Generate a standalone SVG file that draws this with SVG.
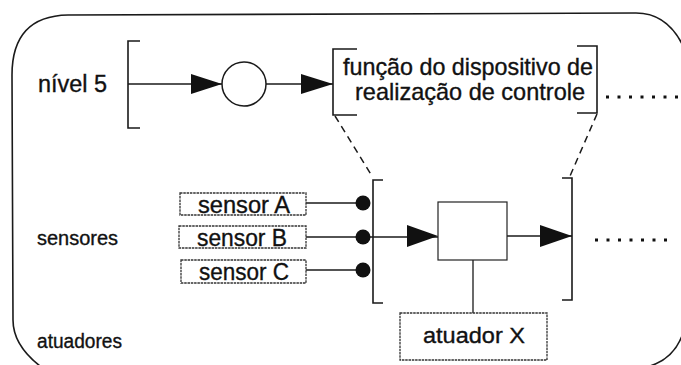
<svg xmlns="http://www.w3.org/2000/svg" width="681" height="365" viewBox="0 0 681 365">
<defs>
<style>
.ln{stroke:#1a1a1a;stroke-width:1.3;fill:none}
.br{stroke:#1a1a1a;stroke-width:1.6;fill:none}
.t{font-family:"Liberation Sans",Arial,sans-serif;fill:#111;stroke:#111;stroke-width:0.35}
.box{fill:#fff;stroke:#222;stroke-width:1.2}
.sb{fill:#fff;stroke:#333;stroke-width:1.3;stroke-dasharray:2.5 0.8}
.dash{stroke:#1a1a1a;stroke-width:1.5;stroke-dasharray:7 5;fill:none}
.dots{stroke:#111;stroke-width:3;stroke-dasharray:3 8.5;fill:none}
.arr{fill:#111}
</style>
</defs>
<rect width="681" height="365" fill="#fff"/>
<g id="frame">
<path class="br" d="M 40,366 Q 13,345 13,320 L 12,75 Q 12,16 68,15 L 636,13 Q 668,13 684,48"/>
<path class="br" d="M 684,330 Q 676,358 650,366"/>
</g>
<g id="labels">
<text class="t" x="38" y="92" font-size="23" textLength="69" lengthAdjust="spacingAndGlyphs">nível 5</text>
<text class="t" x="37" y="245" font-size="20" textLength="81" lengthAdjust="spacingAndGlyphs">sensores</text>
<text class="t" x="37" y="348" font-size="20" textLength="85" lengthAdjust="spacingAndGlyphs">atuadores</text>
</g>
<g id="connectors">
<path class="br" d="M 140,41 L 128,41 L 128,128 L 140,128"/>
<path class="ln" d="M 128,84 L 222,84"/>
<polygon class="arr" points="191,74 222,84 191,94"/>
<path class="ln" d="M 266,84 L 333,84"/>
<polygon class="arr" points="301,74 333,84 301,94"/>
<path class="dash" d="M 335,116 L 372,176"/>
<path class="dash" d="M 597,114 L 570,176"/>
<path class="dots" d="M 606,97 L 681,97"/>
<path class="br" d="M 383,180 L 373,180 L 373,303 L 383,303"/>
<path class="br" d="M 562,178 L 572,178 L 572,300 L 562,300"/>
<path class="ln" d="M 306,203 L 363,203"/>
<path class="ln" d="M 306,237 L 438,237"/>
<path class="ln" d="M 306,270 L 363,270"/>
<polygon class="arr" points="407,225 438,236 407,247"/>
<path class="ln" d="M 507,236 L 572,236"/>
<polygon class="arr" points="540,225 572,236 540,247"/>
<path class="ln" d="M 473,260 L 473,313"/>
<path class="dots" d="M 595,240 L 672,240"/>
<circle class="arr" cx="363" cy="203" r="7.5"/>
<circle class="arr" cx="363" cy="237" r="7.5"/>
<circle class="arr" cx="363" cy="270" r="7.5"/>
</g>
<g id="circle-node">
<circle cx="244" cy="84" r="22" fill="#fff" stroke="#1a1a1a" stroke-width="1.5"/>
</g>
<g id="function-node">
<path class="br" d="M 357,49 L 333,49 L 333,115 L 357,115"/>
<path class="br" d="M 577,46 L 597,46 L 597,113 L 577,113"/>
<text class="t" x="468" y="75" font-size="24" text-anchor="middle" textLength="250" lengthAdjust="spacingAndGlyphs">função do dispositivo de</text>
<text class="t" x="470" y="100" font-size="24" text-anchor="middle" textLength="230" lengthAdjust="spacingAndGlyphs">realização de controle</text>
</g>
<g id="sensor-a">
<rect class="sb" x="180" y="193" width="126" height="22"/>
<text class="t" x="244" y="213" font-size="24" text-anchor="middle" textLength="92" lengthAdjust="spacingAndGlyphs">sensor A</text>
</g>
<g id="sensor-b">
<rect class="sb" x="179" y="226" width="127" height="22"/>
<text class="t" x="242" y="246" font-size="24" text-anchor="middle" textLength="90" lengthAdjust="spacingAndGlyphs">sensor B</text>
</g>
<g id="sensor-c">
<rect class="sb" x="181" y="260" width="125" height="23"/>
<text class="t" x="244" y="280" font-size="24" text-anchor="middle" textLength="90" lengthAdjust="spacingAndGlyphs">sensor C</text>
</g>
<g id="controller">
<rect class="box" x="438" y="202" width="69" height="58"/>
</g>
<g id="atuador-x">
<rect class="sb" x="400" y="313" width="147" height="47"/>
<text class="t" x="474" y="343" font-size="22" text-anchor="middle" textLength="102" lengthAdjust="spacingAndGlyphs">atuador X</text>
</g>
</svg>
